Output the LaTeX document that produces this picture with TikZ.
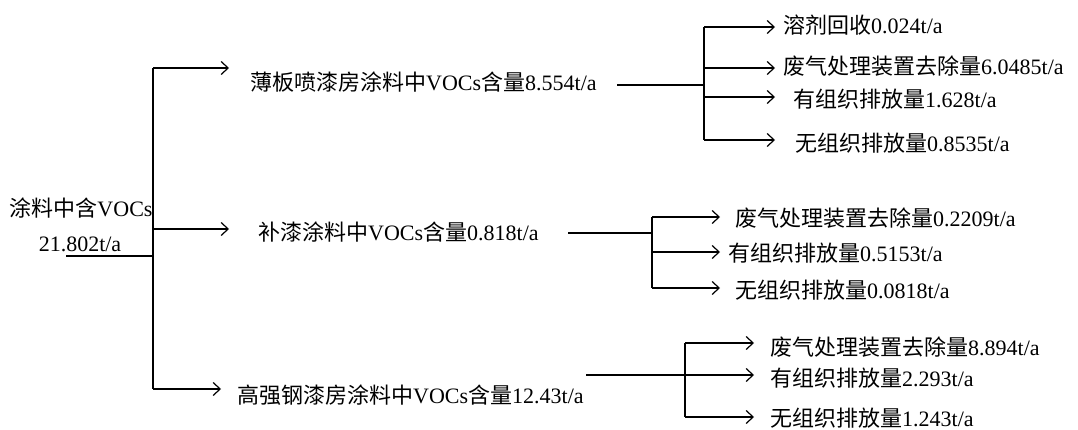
\documentclass[tikz,border=0pt]{standalone}
\usepackage{fontspec}
\setmainfont{Liberation Serif}
\newfontfamily\cjk{Noto Sans CJK SC}
\newcommand{\zh}[1]{{\cjk #1}}
\usetikzlibrary{arrows.meta}
\begin{document}
\begin{tikzpicture}[x=1pt,y=-1pt,
  line/.style={line width=1.2pt},
  arr/.style={line width=1.2pt,-{Straight Barb[length=7pt,width=13pt,line width=1.2pt]}},
  lbl/.style={anchor=west,inner sep=0pt,font=\fontsize{22}{25}\selectfont},
  root/.style={inner sep=0pt,font=\fontsize{22}{25}\selectfont}]
\useasboundingbox (0,0) rectangle (1078,430);
% root
\node[root] (rt1) at (81,208) {\zh{涂料中含}VOCs};
\node[root] (rt2) at (80,244) {21.802t/a};
\coordinate (r) at (66,256);
\coordinate (b1) at (153,68);
\coordinate (b2) at (153,229);
\coordinate (b3) at (153,389);
\coordinate (a1) at (229,68);
\coordinate (a2) at (229,229);
\coordinate (a3) at (221,389);
\draw[line] (b1) -- (b3);
\draw[line] (r) -- (r -| b1);
\draw[arr] (b1) -- (a1);
\draw[arr] (b2) -- (a2);
\draw[arr] (b3) -- (a3);
\node[lbl] (L1) at (250,82) {\zh{薄板喷漆房涂料中}VOCs\zh{含量}8.554t/a};
\node[lbl] (L2) at (258,232) {\zh{补漆涂料中}VOCs\zh{含量}0.818t/a};
\node[lbl] (L3) at (237,395) {\zh{高强钢漆房涂料中}VOCs\zh{含量}12.43t/a};
% sub 1
\coordinate (s1) at (617,85);
\coordinate (j1) at (704,85);
\coordinate (j1a) at (704,27);
\coordinate (j1b) at (704,68);
\coordinate (j1c) at (704,97);
\coordinate (j1d) at (704,140);
\coordinate (t1a) at (775,27);
\coordinate (t1b) at (775,68);
\coordinate (t1c) at (775,97);
\coordinate (t1d) at (775,140);
\draw[line] (s1) -- (j1);
\draw[line] (j1a) -- (j1d);
\draw[arr] (j1a) -- (t1a);
\draw[arr] (j1b) -- (t1b);
\draw[arr] (j1c) -- (t1c);
\draw[arr] (j1d) -- (t1d);
\node[lbl] (M1a) at (783,25) {\zh{溶剂回收}0.024t/a};
\node[lbl] (M1b) at (783,66) {\zh{废气处理装置去除量}6.0485t/a};
\node[lbl] (M1c) at (793,99) {\zh{有组织排放量}1.628t/a};
\node[lbl] (M1d) at (795,143) {\zh{无组织排放量}0.8535t/a};
% sub 2
\coordinate (s2) at (568,233);
\coordinate (j2) at (652,233);
\coordinate (j2a) at (652,217);
\coordinate (j2b) at (652,252);
\coordinate (j2c) at (652,288);
\coordinate (t2a) at (720,217);
\coordinate (t2b) at (720,252);
\coordinate (t2c) at (720,288);
\draw[line] (s2) -- (j2);
\draw[line] (j2a) -- (j2c);
\draw[arr] (j2a) -- (t2a);
\draw[arr] (j2b) -- (t2b);
\draw[arr] (j2c) -- (t2c);
\node[lbl] (M2a) at (735,218) {\zh{废气处理装置去除量}0.2209t/a};
\node[lbl] (M2b) at (728,253) {\zh{有组织排放量}0.5153t/a};
\node[lbl] (M2c) at (735,290) {\zh{无组织排放量}0.0818t/a};
% sub 3
\coordinate (s3) at (586,375);
\coordinate (j3a) at (685,343);
\coordinate (j3c) at (685,417);
\coordinate (t3a) at (754,343);
\coordinate (t3b) at (754,375);
\coordinate (t3c) at (754,417);
\draw[line] (j3a) -- (j3c);
\draw[arr] (s3) -- (t3b);
\draw[arr] (j3a) -- (t3a);
\draw[arr] (j3c) -- (t3c);
\node[lbl] (M3a) at (770,347) {\zh{废气处理装置去除量}8.894t/a};
\node[lbl] (M3b) at (770,378) {\zh{有组织排放量}2.293t/a};
\node[lbl] (M3c) at (770,418) {\zh{无组织排放量}1.243t/a};
\end{tikzpicture}
\end{document}
